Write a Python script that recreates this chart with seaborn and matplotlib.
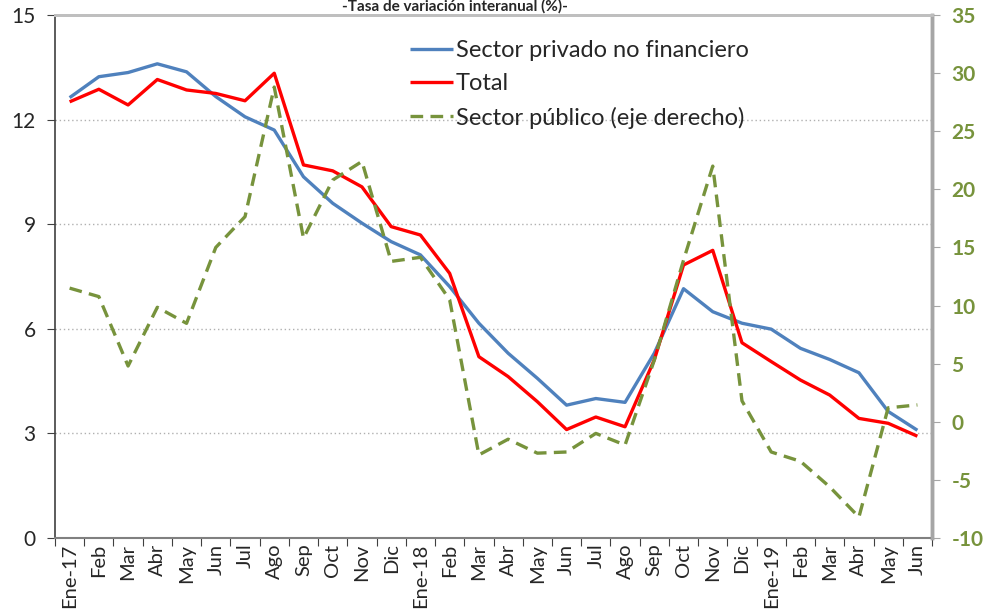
import matplotlib
matplotlib.use("Agg")
import matplotlib.pyplot as plt
import numpy as np
import pandas as pd
import seaborn as sns

meses = ["Ene-17", "Feb", "Mar", "Abr", "May", "Jun", "Jul", "Ago", "Sep", "Oct", "Nov", "Dic",
         "Ene-18", "Feb", "Mar", "Abr", "May", "Jun", "Jul", "Ago", "Sep", "Oct", "Nov", "Dic",
         "Ene-19", "Feb", "Mar", "Abr", "May", "Jun"]

privado = [12.63, 13.23, 13.35, 13.6, 13.37, 12.66, 12.08, 11.7, 10.36, 9.6, 9.03, 8.5,
           8.12, 7.21, 6.16, 5.3, 4.58, 3.81, 4.0, 3.89, 5.3, 7.15, 6.49, 6.16,
           5.99, 5.44, 5.12, 4.74, 3.63, 3.09]

total = [12.51, 12.87, 12.42, 13.15, 12.85, 12.75, 12.54, 13.33, 10.7, 10.53, 10.07, 8.93,
         8.69, 7.59, 5.2, 4.63, 3.91, 3.11, 3.47, 3.19, 5.11, 7.83, 8.25, 5.6,
         5.06, 4.53, 4.1, 3.43, 3.29, 2.92]

publico = [11.5, 10.77, 4.8, 9.85, 8.47, 15.0, 17.65, 28.8, 15.8, 20.8, 22.4, 13.8,
           14.15, 10.5, -2.85, -1.5, -2.7, -2.6, -1.0, -2.0, 5.3, 13.9, 22.0, 1.8,
           -2.6, -3.4, -5.6, -8.2, 1.2, 1.45]

izq_ticks = [0, 3, 6, 9, 12, 15]
der_ticks = [-10, -5, 0, 5, 10, 15, 20, 25, 30, 35]

sns.set_style("white")
plt.rcParams["font.family"] = ["Lato", "DejaVu Sans"]

azul, rojo, verde = "#4F81BD", "#FF0000", "#77933C"

df = pd.DataFrame({"pos": np.arange(len(meses)), "privado": privado,
                   "total": total, "publico": publico})

fig = plt.figure(figsize=(9.84, 6.15), dpi=100)
ax = fig.add_axes([55/984, 1-538/615, 877/984, 523/615])
ax2 = ax.twinx()

sns.lineplot(data=df, x="pos", y="privado", ax=ax, color=azul, lw=2.4,
             label="Sector privado no financiero", legend=False)
sns.lineplot(data=df, x="pos", y="total", ax=ax, color=rojo, lw=2.4,
             label="Total", legend=False)
sns.lineplot(data=df, x="pos", y="publico", ax=ax2, color=verde, lw=2.4,
             label="Sector público (eje derecho)", legend=False)
ax2.lines[0].set_dashes((3.8, 2.2))
for ln in ax.lines + ax2.lines:
    ln.set_solid_capstyle("butt")
    ln.set_solid_joinstyle("round")

n = len(meses)
ax.set_xlim(-0.5, n - 0.5)
ax.set_ylim(izq_ticks[0], izq_ticks[-1])
ax2.set_ylim(der_ticks[0], der_ticks[-1])

ax.set_xticks(np.arange(n + 1) - 0.5)
ax.set_xticklabels([])
ax.set_xticks(np.arange(n), minor=True)
ax.set_xticklabels(meses, minor=True, rotation=90, fontsize=14.5)
ax.tick_params(axis="x", which="major", direction="out", length=6, color="#404040", bottom=True)
ax.tick_params(axis="x", which="minor", length=0, pad=4)

ax.set_yticks(izq_ticks)
ax.set_yticklabels([str(t) for t in izq_ticks], fontsize=15)
ax.tick_params(axis="y", direction="out", length=6, color="#404040", left=True, pad=8)
ax.yaxis.grid(True, color="#B0B0B0", linestyle=(0, (1, 2)), lw=1)
ax.xaxis.grid(False)

ax2.set_yticks(der_ticks)
ax2.set_yticklabels([str(t) for t in der_ticks], fontsize=15, color=verde, fontweight="bold")
ax2.tick_params(axis="y", direction="out", length=6, color="#A6A6A6", right=True, pad=8)
ax2.grid(False)

ax.set_xlabel("")
ax.set_ylabel("")
ax2.set_ylabel("")

ax.spines["left"].set_color("#404040")
ax.spines["left"].set_linewidth(1.2)
ax.spines["bottom"].set_color("#808080")
ax.spines["bottom"].set_linewidth(1.5)
for a in (ax, ax2):
    a.spines["top"].set_color("#BFBFBF")
    a.spines["top"].set_linewidth(2)
    a.spines["right"].set_color("#A6A6A6")
    a.spines["right"].set_linewidth(2.5)
ax2.spines["left"].set_visible(False)
ax2.spines["bottom"].set_visible(False)

handles = ax.lines[:2] + ax2.lines[:1]
labels = ["Sector privado no financiero", "Total", "Sector público (eje derecho)"]
fig.legend(handles, labels, loc="upper left", bbox_to_anchor=(410/984, 1-40/615),
           frameon=False, fontsize=17, handlelength=1.8, handletextpad=0.15,
           borderpad=0, borderaxespad=0, labelspacing=0.52)

fig.text(455/984, 1-11/615, "-Tasa de variación interanual (%)-", ha="center",
         va="baseline", fontsize=11, fontweight="bold")

fig.savefig("out.png", dpi=100)
